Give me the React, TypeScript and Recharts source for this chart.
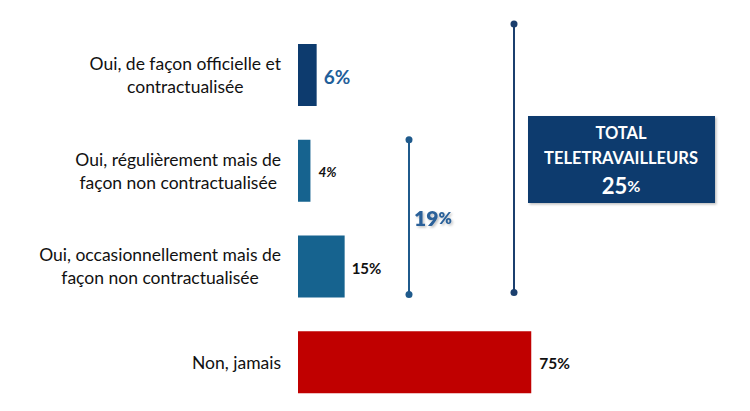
import React from "react";
import { BarChart, Bar, XAxis, YAxis, Cell, LabelList } from "recharts";

const categories = [
  ["Oui, de façon officielle et", "contractualisée"],
  ["Oui, régulièrement mais de", "façon non contractualisée"],
  ["Oui, occasionnellement mais de", "façon non contractualisée"],
  ["Non, jamais"],
];
const values = [6, 4, 15, 75];
const valueLabels = ["6%", "4%", "15%", "75%"];
const barColors = ["#0d3b6e", "#16638f", "#16638f", "#c00000"];
const totalTitle = ["TOTAL", "TELETRAVAILLEURS"];

const data = categories.map((c, i) => ({ name: String(i), value: values[i] }));

const W = 750;
const H = 411;
const M = { top: 27, right: 141, bottom: 1, left: 0 };
const AXIS_W = 298;
const BAR_H = 62;
const FONT = "Lato, 'Open Sans', sans-serif";
const CAT_SIZE = 17.5;

const band = (H - M.top - M.bottom) / categories.length;
const yCenter = (i: number) => M.top + band * (i + 0.5);

let ctx: CanvasRenderingContext2D | null = null;
const measure = (s: string) => {
  if (typeof document === "undefined") return s.length * CAT_SIZE * 0.5;
  if (!ctx) ctx = document.createElement("canvas").getContext("2d");
  if (!ctx) return s.length * CAT_SIZE * 0.5;
  ctx.font = `${CAT_SIZE}px Lato`;
  return ctx.measureText(s).width;
};

const CatTick = (props: any) => {
  const { y, payload } = props;
  const lines = categories[Number(payload.value)];
  const lh = 23;
  const start = y - ((lines.length - 1) * lh) / 2;
  const right = 281;
  const blockW = Math.max(...lines.map(measure));
  const cx = right - blockW / 2;
  return (
    <g>
      {lines.map((l, k) => (
        <text
          key={k}
          x={cx}
          y={start + k * lh}
          textAnchor="middle"
          dominantBaseline="central"
          fontFamily={FONT}
          fontSize={CAT_SIZE}
          fill="#111"
        >
          {l}
        </text>
      ))}
    </g>
  );
};

const ValueLabel = (props: any) => {
  const { x, y, width, height, index } = props;
  const styles = [
    { size: 19, color: "#1f5f9a", italic: false, dx: 7 },
    { size: 13.5, color: "#111", italic: true, dx: 8 },
    { size: 15, color: "#111", italic: false, dx: 7 },
    { size: 15.5, color: "#111", italic: false, dx: 8 },
  ][index];
  return (
    <text
      x={x + width + styles.dx}
      y={y + height / 2 + 1}
      dominantBaseline="central"
      fontFamily={FONT}
      fontWeight={700}
      fontStyle={styles.italic ? "italic" : "normal"}
      fontSize={styles.size}
      fill={styles.color}
    >
      {valueLabels[index]}
    </text>
  );
};

const sub19 = values[1] + values[2];
const total = values[0] + values[1] + values[2];

export default function App() {
  const b19Top = yCenter(1) - BAR_H / 2;
  const b19Bot = yCenter(2) + BAR_H / 2 - 3;
  const b25Top = yCenter(0) - BAR_H / 2 - 20;
  const b25Bot = yCenter(2) + BAR_H / 2 - 5;
  return (
    <div style={{ position: "absolute", left: 0, top: 0, width: W, height: H, background: "#fff" }}>
      <BarChart width={W} height={H} data={data} layout="vertical" margin={M}>
        <XAxis type="number" domain={[0, 100]} hide />
        <YAxis
          type="category"
          dataKey="name"
          width={AXIS_W}
          axisLine={false}
          tickLine={false}
          tick={<CatTick />}
          interval={0}
        />
        <Bar dataKey="value" barSize={BAR_H} isAnimationActive={false}>
          {data.map((d, i) => (
            <Cell key={i} fill={barColors[i]} />
          ))}
          <LabelList dataKey="value" content={<ValueLabel />} />
        </Bar>
      </BarChart>
      <svg width={W} height={H} style={{ position: "absolute", left: 0, top: 0, pointerEvents: "none" }}>
        <defs>
          <filter id="sh" x="-20%" y="-20%" width="140%" height="140%">
            <feDropShadow dx="1.5" dy="1.5" stdDeviation="1.2" floodColor="#000" floodOpacity="0.25" />
          </filter>
        </defs>
        <line x1={409} x2={409} y1={b19Top} y2={b19Bot} stroke="#1f5a8c" strokeWidth={2} />
        <circle cx={409} cy={b19Top} r={3.5} fill="#1f5a8c" />
        <circle cx={409} cy={b19Bot} r={3.5} fill="#1f5a8c" />
        <text
          x={414}
          y={(b19Top + b19Bot) / 2}
          dominantBaseline="central"
          fontFamily={FONT}
          fontWeight={800}
          fontSize={21}
          fill="#2a6199"
          filter="url(#sh)"
        >
          {sub19}
          <tspan fontSize={16}>%</tspan>
        </text>
        <line x1={514} x2={514} y1={b25Top} y2={b25Bot} stroke="#1b3f6e" strokeWidth={2} />
        <circle cx={514} cy={b25Top} r={3.5} fill="#1b3f6e" />
        <circle cx={514} cy={b25Bot} r={3.5} fill="#1b3f6e" />
        <rect x={528} y={116} width={187} height={87} fill="#0d3b6e" filter="url(#sh)" />
        <text x={621} y={133} textAnchor="middle" dominantBaseline="central" fontFamily={FONT} fontWeight={700} fontSize={16.5} fill="#fff">
          {totalTitle[0]}
        </text>
        <text x={621} y={158} textAnchor="middle" dominantBaseline="central" fontFamily={FONT} fontWeight={700} fontSize={16.5} fill="#fff">
          {totalTitle[1]}
        </text>
        <text x={621} y={185} textAnchor="middle" dominantBaseline="central" fontFamily={FONT} fontWeight={700} fontSize={22} fill="#fff">
          {total}
          <tspan fontSize={16}>%</tspan>
        </text>
      </svg>
    </div>
  );
}
